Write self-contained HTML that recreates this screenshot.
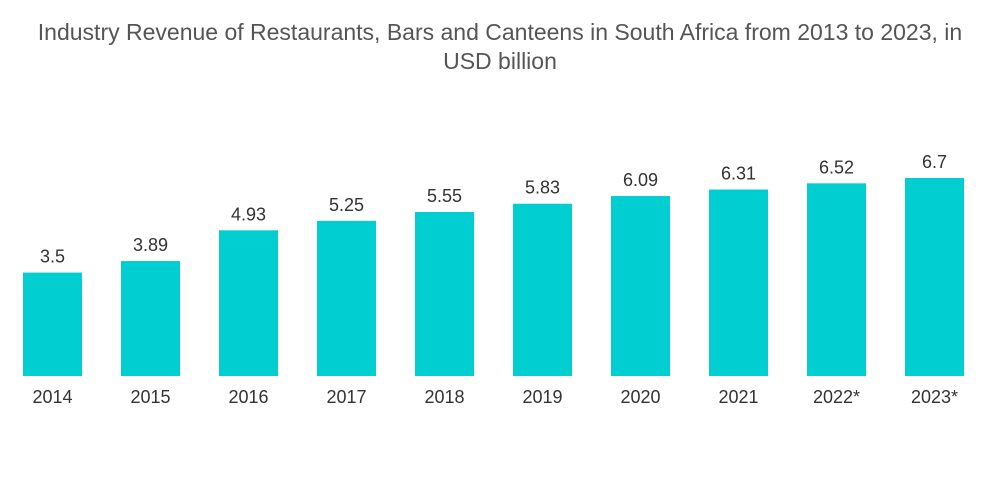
<!DOCTYPE html>
<html>
<head>
<meta charset="utf-8">
<style>
  html,body{margin:0;padding:0;background:#fff;}
  body{width:1000px;height:504px;overflow:hidden;font-family:"Liberation Sans",sans-serif;}
  #title{position:absolute;left:0;top:18px;width:1000px;text-align:center;font-size:23px;line-height:29px;color:#555;}
  svg{position:absolute;left:0;top:0;}
</style>
</head>
<body>
<div id="title">Industry Revenue of Restaurants, Bars and Canteens in South Africa from 2013 to 2023, in<br>USD billion</div>
<svg id="chart" width="1000" height="504"></svg>
<script>
const categories = ["2014","2015","2016","2017","2018","2019","2020","2021","2022*","2023*"];
const values = [3.5,3.89,4.93,5.25,5.55,5.83,6.09,6.31,6.52,6.7];
const valueLabels = ["3.5","3.89","4.93","5.25","5.55","5.83","6.09","6.31","6.52","6.7"];

const svg = document.getElementById('chart');
const NS = 'http://www.w3.org/2000/svg';
const baseY = 376, pxPerUnit = 29.55;
const firstX = 23, step = 98, barW = 59;
function xPos(i){ return firstX + i*step; }
function yPos(v){ return baseY - v*pxPerUnit; }

categories.forEach((c,i)=>{
  const x = xPos(i), y = yPos(values[i]);
  const r = document.createElementNS(NS,'rect');
  r.setAttribute('x',x); r.setAttribute('y',y);
  r.setAttribute('width',barW); r.setAttribute('height',baseY-y);
  r.setAttribute('fill','#00ced1');
  
  
  svg.appendChild(r);

  const t = document.createElementNS(NS,'text');
  t.setAttribute('x',x+barW/2); t.setAttribute('y',y-10);
  t.setAttribute('text-anchor','middle'); t.setAttribute('font-size','18');
  t.setAttribute('fill','#333'); t.setAttribute('font-family','Liberation Sans, sans-serif');
  t.textContent = valueLabels[i];
  
  
  svg.appendChild(t);

  const l = document.createElementNS(NS,'text');
  l.setAttribute('x',x+barW/2); l.setAttribute('y',403);
  l.setAttribute('text-anchor','middle'); l.setAttribute('font-size','18');
  l.setAttribute('fill','#333'); l.setAttribute('font-family','Liberation Sans, sans-serif');
  l.textContent = c;
  
  
  svg.appendChild(l);
});
</script>
</body>
</html>
